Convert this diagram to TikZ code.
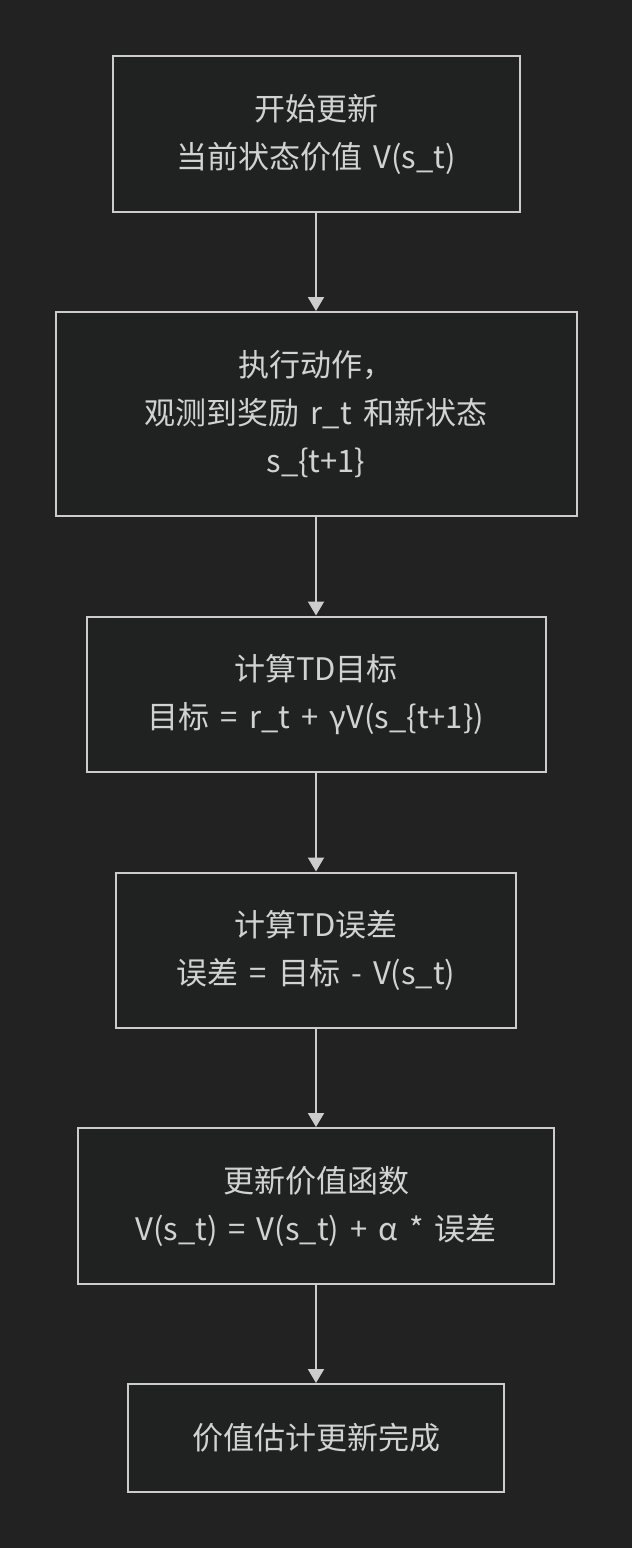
\documentclass[tikz,border=0pt]{standalone}
\usepackage{fontspec}
\setmainfont[WordSpace=1.6]{Noto Sans CJK SC}
\usepackage{tikz}
\usetikzlibrary{positioning,arrows.meta}

\definecolor{bgdark}{HTML}{222222}
\definecolor{boxfill}{HTML}{202121}
\definecolor{edgegray}{HTML}{CCCCCC}
\definecolor{textgray}{HTML}{D2D2D2}

\begin{document}
\begin{tikzpicture}[x=1pt,y=1pt,
    stepbox/.style={draw=edgegray, line width=2pt, fill=boxfill, text=textgray,
      align=center, inner sep=0pt, font=\fontsize{31}{48}\selectfont},
    flow/.style={draw=edgegray, line width=2pt, -{Triangle[width=16pt,length=14pt]}}]
    \fill[bgdark] (0,0) rectangle (632,-1548);
    \useasboundingbox (0,0) rectangle (632,-1548);
    \node[stepbox, minimum width=407, minimum height=156] (start) at (316,-134)
      {开始更新\\当前状态价值 V(s\_t)};
    \node[stepbox, minimum width=521, minimum height=204] (act) at (316,-414)
      {执行动作，\\观测到奖励 r\_t 和新状态\\s\_\{t+1\}};
    \node[stepbox, minimum width=459, minimum height=155] (target) at (316,-694)
      {计算TD目标\\目标 = r\_t + γV(s\_\{t+1\})};
    \node[stepbox, minimum width=400, minimum height=155] (tderr) at (316,-950)
      {计算TD误差\\误差 = 目标 - V(s\_t)};
    \node[stepbox, minimum width=476, minimum height=156] (update) at (316,-1206)
      {更新价值函数\\V(s\_t) = V(s\_t) + α * 误差};
    \node[stepbox, minimum width=376, minimum height=108] (done) at (316,-1438)
      {价值估计更新完成};
    \foreach \a/\b in {start/act,act/target,target/tderr,tderr/update,update/done}
      { \draw[flow] (\a) -- (\b); }
\end{tikzpicture}
\end{document}
